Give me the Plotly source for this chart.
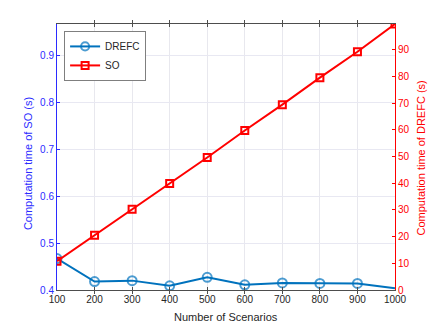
import plotly.graph_objects as go

scenarios = [100, 200, 300, 400, 500, 600, 700, 800, 900, 1000]
drefc_time = [0.467, 0.418, 0.420, 0.409, 0.427, 0.411, 0.415, 0.414, 0.414, 0.4035]
so_time = [10.8, 20.5, 30.2, 39.9, 49.6, 59.7, 69.4, 79.5, 89.2, 99.6]
x_ticks = scenarios
left_ticks = [0.4, 0.5, 0.6, 0.7, 0.8, 0.9]
right_ticks = [0, 10, 20, 30, 40, 50, 60, 70, 80, 90]

BLUE = "#0072BD"
AXBLUE = "#2b2bff"
RED = "#ff0000"
FONT = "Liberation Sans, Arial, sans-serif"

fig = go.Figure()
fig.add_trace(go.Scatter(
    x=scenarios, y=drefc_time, name="DREFC", mode="lines+markers",
    line=dict(color=BLUE, width=2),
    marker=dict(symbol="circle-open", size=[9]*9 + [0], color=BLUE, line=dict(width=2)),
    yaxis="y"))
fig.add_trace(go.Scatter(
    x=scenarios, y=so_time, name="SO", mode="lines+markers",
    line=dict(color=RED, width=2),
    marker=dict(symbol="square-open", size=7, color=RED, line=dict(width=2)),
    yaxis="y2"))

fig.update_layout(
    width=436, height=327,
    margin=dict(l=57, r=41, t=24, b=37, autoexpand=False),
    paper_bgcolor="white", plot_bgcolor="white",
    font=dict(family=FONT, size=10, color="#262626"),
    showlegend=True,
    legend=dict(x=0.021, y=0.974, xanchor="left", yanchor="top",
                bgcolor="white", bordercolor="#7f7f7f", borderwidth=1,
                font=dict(size=10, color="#262626"),
                tracegroupgap=0, itemwidth=30),
    xaxis=dict(range=[100, 1000], tickvals=x_ticks, ticktext=[str(v) for v in x_ticks],
               showgrid=True, gridcolor="#e8e8ee", gridwidth=1,
               showline=True, linecolor="#4d4d4d", linewidth=1, mirror="allticks",
               ticks="inside", ticklen=3, tickcolor="#4d4d4d",
               tickfont=dict(size=10, color="#262626"),
               automargin=False, zeroline=False),
    yaxis=dict(range=[0.4, 0.968], tickvals=left_ticks, ticktext=[f"{v:.1f}" for v in left_ticks],
               showgrid=True, gridcolor="#e8e8f2", gridwidth=1,
               showline=True, linecolor=AXBLUE, linewidth=1,
               ticks="inside", ticklen=3, tickcolor=AXBLUE,
               tickfont=dict(size=10, color=AXBLUE),
               automargin=False, zeroline=False),
    yaxis2=dict(range=[0, 99.6], tickvals=right_ticks, ticktext=[str(v) for v in right_ticks],
                overlaying="y", side="right", showgrid=False,
                showline=True, linecolor=RED, linewidth=1,
                ticks="inside", ticklen=3, tickcolor=RED,
                tickfont=dict(size=10, color=RED),
                automargin=False, zeroline=False),
    annotations=[
        dict(text="Number of Scenarios", xref="paper", yref="paper", x=0.5, y=-0.1015,
             xanchor="center", yanchor="middle", showarrow=False,
             font=dict(size=11, color="#262626")),
        dict(text="Computation time of SO (s)", xref="paper", yref="paper", x=-0.0858, y=0.477,
             xanchor="center", yanchor="middle", textangle=-90, showarrow=False,
             font=dict(size=11, color=AXBLUE)),
        dict(text="Computation time of DREFC (s)", xref="paper", yref="paper", x=1.0769, y=0.498,
             xanchor="center", yanchor="middle", textangle=-90, showarrow=False,
             font=dict(size=11, color=RED)),
    ],
)

fig.write_html("out.html", config={"displayModeBar": False},
               post_script="document.body.style.margin='0px';document.body.style.overflow='hidden';")
